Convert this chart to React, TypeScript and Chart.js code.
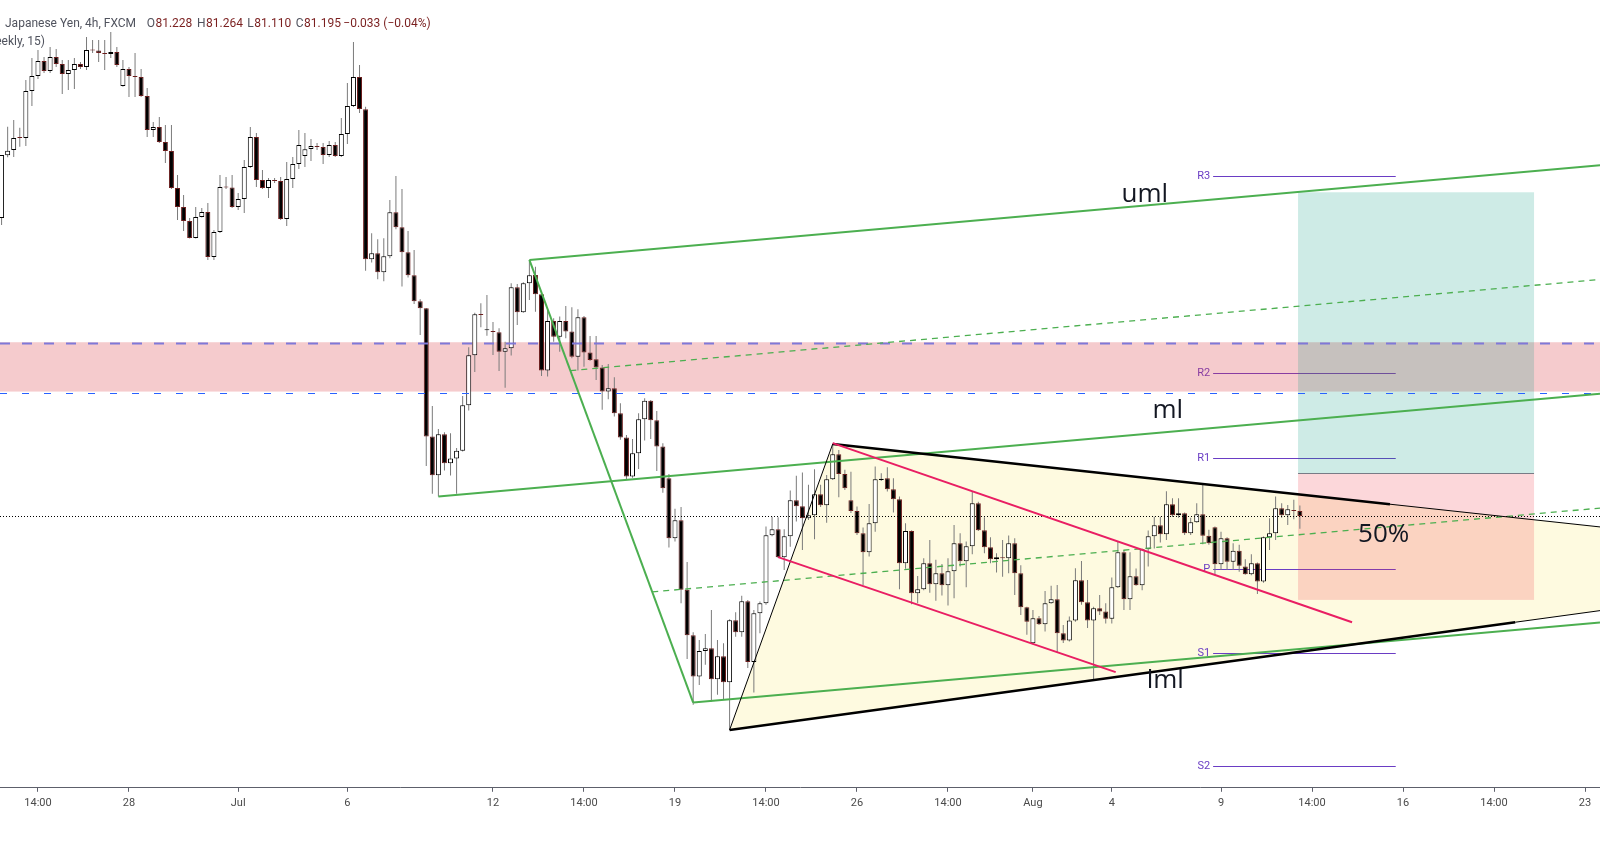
import React, { useEffect, useRef } from "react";
import { Chart, registerables } from "chart.js";

Chart.register(...registerables);

// ---- candle data (4h bars, index 0 = first bar of Jul 19) ----
const FIRST_BAR = -111;

const opens = [
  83.182, 83.600, 83.635, 83.717, 83.715, 84.028, 84.128, 84.228, 84.162, 84.255,
  84.208, 84.142, 84.168, 84.208, 84.188, 84.302, 84.298, 84.282, 84.275, 84.288,
  84.062, 84.175, 84.128, 84.122, 83.995, 83.768, 83.788, 83.688, 83.628, 83.382,
  83.255, 83.162, 83.048, 83.188, 83.222, 82.922, 83.088, 83.388, 83.385, 83.255,
  83.308, 83.522, 83.722, 83.435, 83.382, 83.435, 83.428, 83.175, 83.442, 83.542,
  83.595, 83.642, 83.662, 83.655, 83.602, 83.668, 83.595, 83.742, 83.928, 84.122,
  83.906, 82.906, 82.946, 82.820, 82.926, 83.220, 83.120, 82.953, 82.800, 82.626,
  82.580, 81.724, 81.466, 81.740, 81.546, 81.577, 81.630, 81.933, 82.266, 82.537,
  82.433, 82.428, 82.420, 82.290, 82.313, 82.720, 82.553, 82.746, 82.802, 82.673,
  82.164, 82.495, 82.390, 82.495, 82.424, 82.257, 82.520, 82.284, 82.240, 82.184,
  82.024, 82.046, 81.880, 81.717, 81.457, 81.613, 81.840, 81.962, 81.833, 81.657,
  81.446, 81.046, 81.166, 80.702, 80.400, 80.124, 80.295, 80.313, 80.106, 80.260,
  80.086, 80.500, 80.420, 80.626, 80.220, 80.546, 80.613, 81.066, 81.106, 80.920,
  81.060, 81.300, 81.260, 81.180, 81.200, 81.340, 81.266, 81.440, 81.606, 81.475,
  81.300, 81.228, 81.080, 80.953, 81.146, 81.435, 81.446, 81.373, 81.306, 80.880,
  81.095, 80.680, 80.706, 80.880, 80.740, 80.813, 80.733, 80.826, 81.013, 80.893,
  80.993, 81.280, 81.100, 80.986, 80.906, 80.915, 80.913, 81.013, 80.813, 80.586,
  80.346, 80.513, 80.473, 80.613, 80.640, 80.413, 80.364, 80.497, 80.766, 80.620,
  80.497, 80.580, 80.557, 80.510, 80.720, 80.953, 80.640, 80.793, 80.733, 80.973,
  81.060, 81.133, 81.073, 81.273, 81.200, 81.213, 81.080, 81.153, 81.206, 81.062,
  81.120, 80.873, 81.046, 80.890, 80.962, 80.857, 80.806, 80.880, 80.757, 81.053,
  81.080, 81.246, 81.200, 81.235, 81.228,
];

const highs = [
  83.602, 83.790, 83.835, 83.784, 84.102, 84.248, 84.302, 84.255, 84.322, 84.308,
  84.235, 84.235, 84.248, 84.222, 84.388, 84.368, 84.368, 84.368, 84.422, 84.322,
  84.235, 84.188, 84.282, 84.175, 84.048, 83.822, 83.855, 83.802, 83.802, 83.468,
  83.335, 83.182, 83.255, 83.248, 83.282, 83.102, 83.468, 83.455, 83.468, 83.348,
  83.568, 83.788, 83.748, 83.502, 83.448, 83.448, 83.455, 83.555, 83.588, 83.768,
  83.748, 83.708, 83.682, 83.682, 83.695, 83.688, 83.848, 84.082, 84.355, 84.202,
  83.924, 83.080, 83.040, 83.046, 83.302, 83.462, 83.375, 83.095, 82.968, 82.640,
  82.582, 81.928, 81.775, 81.753, 81.746, 81.648, 81.995, 82.320, 82.550, 82.613,
  82.668, 82.488, 82.446, 82.357, 82.746, 82.742, 82.753, 82.902, 82.857, 82.682,
  82.568, 82.513, 82.524, 82.595, 82.586, 82.573, 82.528, 82.395, 82.395, 82.202,
  82.208, 82.120, 81.946, 81.735, 81.708, 81.880, 81.980, 81.968, 81.895, 81.680,
  81.475, 81.242, 81.255, 80.888, 80.420, 80.368, 80.408, 80.568, 80.368, 80.346,
  80.506, 80.553, 80.662, 80.635, 80.568, 80.624, 81.124, 81.190, 81.186, 81.106,
  81.364, 81.462, 81.484, 81.402, 81.506, 81.402, 81.468, 81.675, 81.635, 81.502,
  81.490, 81.257, 81.117, 81.275, 81.524, 81.480, 81.520, 81.446, 81.324, 81.146,
  81.100, 80.795, 80.913, 81.035, 80.902, 80.875, 80.913, 81.135, 81.080, 81.024,
  81.357, 81.290, 81.186, 81.053, 80.946, 81.035, 81.064, 81.046, 80.866, 80.590,
  80.568, 80.528, 80.695, 80.730, 80.735, 80.468, 80.524, 80.846, 80.895, 80.768,
  80.590, 80.668, 80.613, 80.784, 81.022, 80.968, 80.953, 80.844, 80.977, 81.097,
  81.190, 81.190, 81.360, 81.313, 81.313, 81.217, 81.182, 81.280, 81.402, 81.102,
  81.124, 81.090, 81.053, 81.013, 81.002, 80.906, 80.940, 80.884, 81.057, 81.180,
  81.324, 81.280, 81.268, 81.302, 81.264,
];

const lows = [
  83.135, 83.586, 83.588, 83.657, 83.662, 83.928, 84.108, 84.148, 84.148, 84.188,
  84.008, 84.035, 84.042, 84.175, 84.168, 84.282, 84.222, 84.168, 84.248, 84.188,
  84.057, 83.988, 83.988, 83.988, 83.722, 83.722, 83.682, 83.548, 83.375, 83.168,
  83.095, 83.045, 83.045, 83.185, 82.902, 82.902, 83.082, 83.375, 83.248, 83.235,
  83.215, 83.515, 83.388, 83.375, 83.315, 83.415, 83.168, 83.128, 83.382, 83.508,
  83.522, 83.562, 83.635, 83.542, 83.588, 83.588, 83.588, 83.675, 83.922, 83.882,
  82.830, 82.884, 82.773, 82.760, 82.913, 83.106, 82.724, 82.784, 82.608, 82.402,
  81.528, 81.342, 81.324, 81.497, 81.464, 81.342, 81.625, 81.897, 82.155, 82.453,
  82.397, 82.268, 82.162, 82.050, 82.264, 82.468, 82.550, 82.635, 82.557, 82.128,
  82.124, 82.357, 82.290, 82.380, 82.246, 82.164, 82.190, 82.228, 82.102, 81.902,
  81.973, 81.857, 81.702, 81.435, 81.450, 81.508, 81.697, 81.708, 81.495, 81.350,
  80.984, 81.024, 80.613, 80.240, 79.935, 80.068, 80.202, 79.957, 80.002, 79.968,
  79.768, 80.390, 80.390, 80.180, 80.017, 80.413, 80.602, 81.060, 80.915, 80.835,
  80.990, 81.157, 80.968, 81.168, 81.040, 81.255, 81.150, 81.435, 81.320, 81.368,
  81.215, 81.068, 80.735, 80.924, 81.090, 81.428, 81.357, 81.217, 80.706, 80.842,
  80.606, 80.613, 80.700, 80.682, 80.630, 80.664, 80.597, 80.646, 80.857, 80.720,
  80.940, 81.095, 80.946, 80.880, 80.817, 80.790, 80.813, 80.668, 80.535, 80.402,
  80.340, 80.468, 80.424, 80.610, 80.286, 80.348, 80.357, 80.490, 80.602, 80.448,
  80.097, 80.535, 80.477, 80.477, 80.715, 80.568, 80.568, 80.730, 80.700, 80.857,
  80.977, 81.017, 81.035, 81.188, 81.182, 81.068, 81.068, 81.150, 81.006, 81.002,
  80.802, 80.835, 80.835, 80.835, 80.822, 80.802, 80.800, 80.675, 80.750, 80.968,
  81.035, 81.182, 81.135, 81.173, 81.110,
];

const closes = [
  83.602, 83.630, 83.715, 83.714, 84.028, 84.128, 84.228, 84.162, 84.255, 84.208,
  84.142, 84.168, 84.208, 84.188, 84.302, 84.298, 84.282, 84.275, 84.288, 84.202,
  84.175, 84.128, 84.122, 83.995, 83.768, 83.788, 83.688, 83.628, 83.382, 83.255,
  83.162, 83.048, 83.188, 83.222, 82.922, 83.088, 83.388, 83.385, 83.255, 83.308,
  83.522, 83.722, 83.435, 83.382, 83.435, 83.428, 83.175, 83.442, 83.542, 83.668,
  83.640, 83.662, 83.655, 83.602, 83.668, 83.595, 83.742, 83.928, 84.122, 83.908,
  82.906, 82.946, 82.820, 82.926, 83.220, 83.120, 82.953, 82.800, 82.626, 82.580,
  81.724, 81.466, 81.740, 81.546, 81.577, 81.630, 81.933, 82.266, 82.540, 82.535,
  82.433, 82.422, 82.290, 82.313, 82.720, 82.553, 82.746, 82.800, 82.673, 82.164,
  82.495, 82.390, 82.495, 82.424, 82.257, 82.520, 82.284, 82.235, 82.184, 82.024,
  82.046, 81.880, 81.717, 81.457, 81.613, 81.840, 81.962, 81.833, 81.657, 81.380,
  81.046, 81.166, 80.702, 80.400, 80.124, 80.295, 80.313, 80.106, 80.260, 80.086,
  80.500, 80.420, 80.626, 80.220, 80.546, 80.613, 81.066, 81.106, 80.920, 81.060,
  81.300, 81.260, 81.180, 81.200, 81.340, 81.266, 81.440, 81.606, 81.475, 81.380,
  81.228, 81.080, 80.953, 81.146, 81.440, 81.442, 81.373, 81.306, 80.880, 81.095,
  80.680, 80.706, 80.880, 80.740, 80.813, 80.733, 80.826, 81.013, 80.893, 80.993,
  81.280, 81.100, 80.986, 80.906, 80.920, 80.913, 81.013, 80.813, 80.586, 80.490,
  80.513, 80.473, 80.613, 80.640, 80.413, 80.364, 80.497, 80.766, 80.620, 80.497,
  80.580, 80.557, 80.510, 80.720, 80.953, 80.640, 80.793, 80.733, 80.973, 81.060,
  81.133, 81.073, 81.273, 81.200, 81.213, 81.080, 81.153, 81.206, 81.062, 81.013,
  80.873, 81.046, 80.890, 80.962, 80.862, 80.806, 80.880, 80.757, 81.053, 81.080,
  81.246, 81.200, 81.240, 81.228, 81.195,
];

// ---- axis ----
const tickIdx = [-105, -90, -72, -54, -30, -15, 0, 15, 30, 45, 59, 72, 90, 105, 120, 135, 150];
const tickLbl = ["14:00", "28", "Jul", "6", "12", "14:00", "19", "14:00", "26", "14:00", "Aug", "4", "9", "14:00", "16", "14:00", "23"];
const xRange = [-111.26, 152.47];
const priceRange = [79.382, 84.635];

// ---- drawings ----
const pitchIdx = [-39, -24, 3];
const pitchPrice = [81.324, 82.902, 79.95];
const triUpperIdx = [26, 117.85];
const triUpperPrice = [81.675, 81.273];
const triLowerIdx = [9, 138.5];
const triLowerPrice = [79.768, 80.486];
const redUpperIdx = [26, 111.6];
const redUpperPrice = [81.68, 80.486];
const redLowerIdx = [17, 72.64];
const redLowerPrice = [80.92, 80.153];
const pivotNames = ["R3", "R2", "R1", "P", "S1", "S2"];
const pivotPrices = [83.462, 82.146, 81.58, 80.842, 80.278, 79.528];
const pivotSpan = [88.7, 118.8];
const zonePrices = [82.353, 82.024];
const zoneLinePrices = [82.344, 82.013];
const positionIdx = [102.7, 141.6];
const positionPrices = [83.353, 81.48, 80.635]; // target, entry, stop
const lastPrice = 81.195;
const noteTexts = ["uml", "ml", "lml", "50%"];
const noteIdx = [73.6, 78.7, 77.75, 112.6];
const notePrices = [83.29, 81.846, 80.048, 81.024];

const headerTitle = "Australian Dollar / Japanese Yen, 4h, FXCM";
const headerHidden = "Australian Dollar / ";
const headerKeys = ["O", "H", "L", "C", ""];
const headerVals = ["81.228", "81.264", "81.110", "81.195", "\u22120.033 (\u22120.04%)"];
const headerStudy = "Pivot Points Standard (Traditional, Weekly, 15)";

const FONT_UI = "Roboto, 'Liberation Sans', sans-serif";
const FONT_NOTE = "'Open Sans', 'DejaVu Sans', sans-serif";
const PIVOT_COLOR = "#6a3dc4";
const GREEN = "#4caf50";

function lineAt(xs: number[], ys: number[], v: number) {
  return ys[0] + ((ys[1] - ys[0]) * (v - xs[0])) / (xs[1] - xs[0]);
}

const overlayPlugin = {
  id: "tvOverlays",
  beforeDatasetsDraw(chart: any) {
    const { ctx, chartArea: a } = chart;
    const xs = chart.scales.x;
    const ys = chart.scales.y;
    const X = (v: number) => xs.getPixelForValue(v);
    const Y = (v: number) => ys.getPixelForValue(v);
    const xEnd = xRange[1];
    ctx.save();
    ctx.beginPath();
    ctx.rect(a.left, a.top, a.right - a.left, a.bottom - a.top);
    ctx.clip();

    // triangle fill
    ctx.beginPath();
    ctx.moveTo(X(triLowerIdx[0]), Y(triLowerPrice[0]));
    ctx.lineTo(X(triUpperIdx[0]), Y(triUpperPrice[0]));
    ctx.lineTo(X(xEnd), Y(lineAt(triUpperIdx, triUpperPrice, xEnd)));
    ctx.lineTo(X(xEnd), Y(lineAt(triLowerIdx, triLowerPrice, xEnd)));
    ctx.closePath();
    ctx.fillStyle = "rgba(250, 235, 130, 0.25)";
    ctx.fill();

    // pivots
    ctx.font = `11px ${FONT_UI}`;
    ctx.textAlign = "right";
    ctx.textBaseline = "middle";
    pivotNames.forEach((nm, k) => {
      const py = Math.round(Y(pivotPrices[k])) + 0.5;
      ctx.strokeStyle = PIVOT_COLOR;
      ctx.lineWidth = 1;
      ctx.beginPath();
      ctx.moveTo(X(pivotSpan[0]), py);
      ctx.lineTo(X(pivotSpan[1]), py);
      ctx.stroke();
      ctx.fillStyle = PIVOT_COLOR;
      ctx.fillText(nm, X(pivotSpan[0]) - 3, py);
    });

    // supply zone
    const zt = Y(zonePrices[0]);
    const zb = Y(zonePrices[1]);
    ctx.fillStyle = "rgba(218, 62, 70, 0.27)";
    ctx.fillRect(a.left, zt, a.right - a.left, zb - zt);

    // long position
    const p0 = X(positionIdx[0]);
    const p1 = X(positionIdx[1]);
    const yT = Y(positionPrices[0]);
    const yE = Y(positionPrices[1]);
    const yS = Y(positionPrices[2]);
    ctx.fillStyle = "rgba(8, 153, 129, 0.2)";
    ctx.fillRect(p0, yT, p1 - p0, yE - yT);
    ctx.fillStyle = "rgba(242, 54, 69, 0.2)";
    ctx.fillRect(p0, yE, p1 - p0, yS - yE);
    ctx.strokeStyle = "#787b86";
    ctx.lineWidth = 1;
    ctx.beginPath();
    ctx.moveTo(p0, Math.round(yE) + 0.5);
    ctx.lineTo(p1, Math.round(yE) + 0.5);
    ctx.stroke();
    ctx.restore();
  },
  afterDatasetsDraw(chart: any) {
    const { ctx, chartArea: a } = chart;
    const xs = chart.scales.x;
    const ys = chart.scales.y;
    const X = (v: number) => xs.getPixelForValue(v);
    const Y = (v: number) => ys.getPixelForValue(v);
    const xEnd = xRange[1];
    ctx.save();
    ctx.beginPath();
    ctx.rect(a.left, a.top, a.right - a.left, a.bottom - a.top);
    ctx.clip();

    const seg = (x1: number, y1: number, x2: number, y2: number) => {
      ctx.beginPath();
      ctx.moveTo(X(x1), Y(y1));
      ctx.lineTo(X(x2), Y(y2));
      ctx.stroke();
    };

    // zone borders
    ctx.setLineDash([10, 12]);
    ctx.strokeStyle = "#7f78d8";
    ctx.lineWidth = 2;
    ctx.beginPath();
    ctx.moveTo(a.left, Y(zoneLinePrices[0]));
    ctx.lineTo(a.right, Y(zoneLinePrices[0]));
    ctx.stroke();
    ctx.setLineDash([7, 15]);
    ctx.strokeStyle = "#2962ff";
    ctx.lineWidth = 1;
    ctx.beginPath();
    ctx.moveTo(a.left, Math.round(Y(zoneLinePrices[1])) + 0.5);
    ctx.lineTo(a.right, Math.round(Y(zoneLinePrices[1])) + 0.5);
    ctx.stroke();

    // last price dotted line
    ctx.setLineDash([1, 2]);
    ctx.strokeStyle = "#000000";
    ctx.lineWidth = 1;
    const lp = Math.round(Y(lastPrice)) + 0.5;
    ctx.beginPath();
    ctx.moveTo(a.left, lp);
    ctx.lineTo(a.right, lp);
    ctx.stroke();
    ctx.setLineDash([]);

    // pitchfork
    const [x1, x2, x3] = pitchIdx;
    const [y1, y2, y3] = pitchPrice;
    const mx = (x2 + x3) / 2;
    const my = (y2 + y3) / 2;
    const s = (my - y1) / (mx - x1);
    const ext = (x0: number, y0: number) => seg(x0, y0, xEnd, y0 + s * (xEnd - x0));
    ctx.strokeStyle = GREEN;
    ctx.lineWidth = 2;
    seg(x2, y2, x3, y3);
    ext(x1, y1);
    ext(x2, y2);
    ext(x3, y3);
    ctx.lineWidth = 1.3;
    ctx.setLineDash([6, 5]);
    ext(x2 + 0.25 * (x3 - x2), y2 + 0.25 * (y3 - y2));
    ext(x2 + 0.75 * (x3 - x2), y2 + 0.75 * (y3 - y2));
    ctx.setLineDash([]);

    // triangle
    ctx.strokeStyle = "#000000";
    ctx.lineWidth = 1;
    seg(triLowerIdx[0], triLowerPrice[0], triUpperIdx[0], triUpperPrice[0]);
    seg(triUpperIdx[1], triUpperPrice[1], xEnd, lineAt(triUpperIdx, triUpperPrice, xEnd));
    seg(triLowerIdx[1], triLowerPrice[1], xEnd, lineAt(triLowerIdx, triLowerPrice, xEnd));
    ctx.lineWidth = 2.5;
    seg(triUpperIdx[0], triUpperPrice[0], triUpperIdx[1], triUpperPrice[1]);
    seg(triLowerIdx[0], triLowerPrice[0], triLowerIdx[1], triLowerPrice[1]);

    // red channel
    ctx.strokeStyle = "#e91e63";
    ctx.lineWidth = 2;
    seg(redUpperIdx[0], redUpperPrice[0], redUpperIdx[1], redUpperPrice[1]);
    seg(redLowerIdx[0], redLowerPrice[0], redLowerIdx[1], redLowerPrice[1]);

    // notes
    ctx.fillStyle = "#131722";
    ctx.font = `26px ${FONT_NOTE}`;
    ctx.textAlign = "left";
    ctx.textBaseline = "alphabetic";
    noteTexts.forEach((t, k) => {
      ctx.fillText(t, X(noteIdx[k]), Y(notePrices[k]));
    });
    ctx.restore();
  },
  afterDraw(chart: any) {
    const { ctx } = chart;
    ctx.save();
    ctx.font = `12px ${FONT_UI}`;
    ctx.textBaseline = "middle";
    ctx.textAlign = "left";
    // legend line (clipped like the pane edge)
    ctx.save();
    ctx.beginPath();
    ctx.rect(4, 10, 600, 26);
    ctx.clip();
    const hw = ctx.measureText(headerHidden).width;
    ctx.fillStyle = "#50535e";
    ctx.fillText(headerTitle, 5 - hw, 24);
    ctx.restore();
    const pos = [146.7, 197, 247.3, 295.7, 343.3];
    headerKeys.forEach((k, i) => {
      ctx.fillStyle = "#50535e";
      ctx.fillText(k, pos[i], 24);
      const kw = k ? ctx.measureText(k).width + 0.5 : 0;
      ctx.fillStyle = "#7a1f1f";
      ctx.fillText(headerVals[i], pos[i] + kw, 24);
    });
    ctx.fillStyle = "#50535e";
    ctx.textAlign = "right";
    ctx.fillText(headerStudy, 45, 41.5);
    ctx.restore();
  },
};

export default function App() {
  const ref = useRef<HTMLCanvasElement>(null);

  useEffect(() => {
    document.body.style.margin = "0";
    const canvas = ref.current;
    if (!canvas) return;
    const barX = opens.map((_, k) => FIRST_BAR + k);
    const up = opens.map((o, k) => closes[k] >= o);
    const chart = new Chart(canvas, {
      type: "bar",
      data: {
        datasets: [
          {
            label: "wicks",
            data: barX.map((x, k) => ({ x, y: [lows[k], highs[k]] })) as any,
            backgroundColor: "#7b7b7b",
            borderWidth: 0,
            barThickness: 1,
            grouped: false,
            inflateAmount: 0,
            order: 2,
          } as any,
          {
            label: "bodies",
            data: barX.map((x, k) => ({ x, y: [opens[k], closes[k]] })) as any,
            backgroundColor: up.map((u) => (u ? "#ffffff" : "#000000")),
            borderColor: up.map((u) => (u ? "#000000" : "#6b1d1d")),
            borderWidth: 1,
            borderSkipped: false,
            barThickness: 5,
            minBarLength: 1,
            grouped: false,
            inflateAmount: 0,
            order: 1,
          } as any,
        ],
      },
      options: {
        animation: false,
        responsive: false,
        events: [],
        layout: { padding: { left: 0, right: 0, top: 0, bottom: 36 } },
        plugins: { legend: { display: false }, tooltip: { enabled: false } },
        scales: {
          x: {
            type: "linear",
            min: xRange[0],
            max: xRange[1],
            offset: false,
            grid: {
              display: true,
              drawOnChartArea: false,
              drawTicks: true,
              tickLength: 4,
              color: "#5d606b",
              offset: false,
            },
            border: { display: true, color: "#5d606b", width: 1 },
            afterBuildTicks: (axis: any) => {
              axis.ticks = tickIdx.map((v) => ({ value: v }));
            },
            ticks: {
              autoSkip: false,
              maxRotation: 0,
              minRotation: 0,
              padding: 5,
              color: "#4a4a4a",
              font: { size: 11, family: FONT_UI },
              callback: (v: any) => {
                const k = tickIdx.indexOf(Number(v));
                return k >= 0 ? tickLbl[k] : "";
              },
            },
          } as any,
          y: {
            type: "linear",
            display: false,
            min: priceRange[0],
            max: priceRange[1],
          },
        },
      },
      plugins: [overlayPlugin as any],
    });
    return () => chart.destroy();
  }, []);

  return (
    <div style={{ width: 1600, height: 851, background: "#ffffff" }}>
      <canvas ref={ref} width={1600} height={851} style={{ display: "block" }} />
    </div>
  );
}
